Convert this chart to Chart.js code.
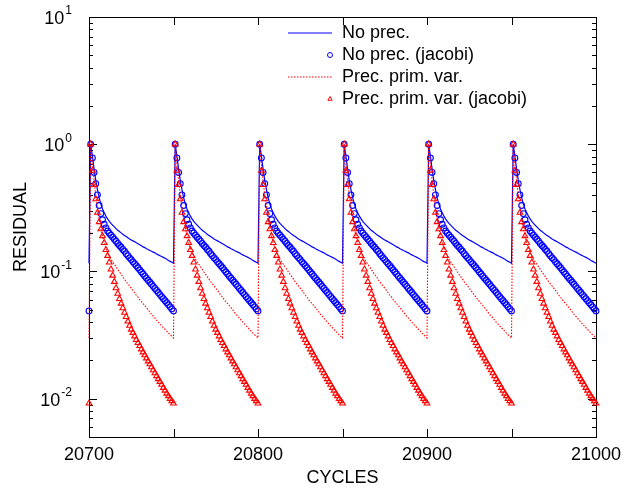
<!DOCTYPE html>
<html>
<head>
<meta charset="utf-8">
<script src="https://cdn.jsdelivr.net/npm/chart.js@4/dist/chart.umd.min.js"></script>
<style>
  html, body { margin: 0; padding: 0; background: #fff; }
  #wrap { width: 634px; height: 489px; }
</style>
</head>
<body>
<div id="wrap"><canvas id="chart" width="634" height="489"></canvas></div>
<script>
// every cycle block is 50 iterations long, the profile repeats per block
const cycleStarts = [20700, 20750, 20800, 20850, 20900, 20950];

const noPrec = [
  1.0, 0.81, 0.64, 0.52, 0.44, 0.38, 0.34, 0.31, 0.29, 0.272,
  0.259, 0.248, 0.239, 0.231, 0.224, 0.217, 0.211, 0.206, 0.201, 0.196,
  0.192, 0.188, 0.184, 0.180, 0.177, 0.174, 0.171, 0.168, 0.165, 0.162,
  0.159, 0.156, 0.154, 0.151, 0.149, 0.146, 0.144, 0.142, 0.140, 0.137,
  0.135, 0.133, 0.131, 0.129, 0.127, 0.125, 0.122, 0.120, 0.118, 0.116
];
const noPrecJacobi = [
  1.0, 0.78, 0.60, 0.49, 0.40, 0.33, 0.285, 0.255, 0.235, 0.22,
  0.208, 0.200, 0.193, 0.186, 0.179, 0.173, 0.166, 0.160, 0.155, 0.149,
  0.144, 0.138, 0.133, 0.128, 0.124, 0.119, 0.115, 0.111, 0.107, 0.103,
  0.099, 0.0954, 0.0919, 0.0886, 0.0853, 0.0822, 0.0793, 0.0764, 0.0736, 0.0709,
  0.0683, 0.0658, 0.0634, 0.0611, 0.0589, 0.0568, 0.0547, 0.0527, 0.0508, 0.049
];
const precPrim = [
  1.0, 0.70, 0.52, 0.40, 0.32, 0.26, 0.22, 0.19, 0.168, 0.152,
  0.141, 0.132, 0.125, 0.119, 0.114, 0.109, 0.104, 0.099, 0.095, 0.091,
  0.087, 0.083, 0.080, 0.077, 0.074, 0.071, 0.068, 0.065, 0.063, 0.060,
  0.058, 0.056, 0.054, 0.052, 0.050, 0.048, 0.046, 0.0445, 0.043, 0.0415,
  0.040, 0.0387, 0.0374, 0.0362, 0.035, 0.0339, 0.0328, 0.0318, 0.0309, 0.030
];
const precPrimJacobi = [
  1.0, 0.62, 0.48, 0.37, 0.29, 0.245, 0.215, 0.19, 0.168, 0.148,
  0.133, 0.118, 0.104, 0.093, 0.083, 0.074, 0.067, 0.061, 0.056, 0.0515,
  0.0475, 0.0440, 0.0405, 0.0375, 0.0350, 0.0330, 0.0310, 0.0290, 0.0275, 0.0260,
  0.0245, 0.0232, 0.0220, 0.0208, 0.0197, 0.0187, 0.0177, 0.0168, 0.0159, 0.0151,
  0.0143, 0.0136, 0.0129, 0.0122, 0.0116, 0.0110, 0.0105, 0.0100, 0.0096, 0.0092
];

const seriesNames = ["No prec.", "No prec. (jacobi)", "Prec. prim. var.", "Prec. prim. var. (jacobi)"];
const xTicks = [20700, 20750, 20800, 20850, 20900, 20950, 21000];
const xTickLabels = ["20700", "", "20800", "", "20900", "", "21000"];
const yDecades = [-2, -1, 0, 1];

const FONT = "'Liberation Sans', Arial, Helvetica, sans-serif";
const BLUE = "#0000ff";
const RED = "#ff0000";

function buildSeries(profile) {
  const pts = [{ x: cycleStarts[0], y: profile[profile.length - 1] }];
  cycleStarts.forEach(s => {
    profile.forEach((v, i) => pts.push({ x: s + i + 1, y: v }));
  });
  return pts;
}

function marker(ctx, style, x, y, r, color) {
  ctx.save();
  ctx.strokeStyle = color;
  ctx.lineWidth = 1;
  ctx.beginPath();
  if (style === "circle") {
    ctx.arc(x, y, r, 0, Math.PI * 2);
  } else {
    ctx.moveTo(x, y - r);
    ctx.lineTo(x + r * Math.sin(Math.PI / 3), y + r / 2);
    ctx.lineTo(x - r * Math.sin(Math.PI / 3), y + r / 2);
    ctx.closePath();
  }
  ctx.stroke();
  ctx.restore();
}

const frame = {
  id: "frame",
  beforeDatasetsDraw(chart) {
    const { ctx, chartArea: a } = chart;
    const xs = chart.scales.x, ys = chart.scales.y;
    ctx.save();
    ctx.strokeStyle = "#000";
    ctx.lineWidth = 1;
    ctx.beginPath();
    // x ticks, bottom and top, pointing inwards
    xTicks.forEach(v => {
      const px = Math.round(xs.getPixelForValue(v)) + 0.5;
      ctx.moveTo(px, a.bottom); ctx.lineTo(px, a.bottom - 8);
      ctx.moveTo(px, a.top); ctx.lineTo(px, a.top + 8);
    });
    // y ticks, major at decades and minor at 2..9
    for (let d = -3; d <= 1; d++) {
      for (let m = 1; m <= 9; m++) {
        const v = m * Math.pow(10, d);
        if (v < ys.min || v > ys.max) continue;
        const py = Math.round(ys.getPixelForValue(v)) + 0.5;
        const len = m === 1 ? 8 : 4;
        ctx.moveTo(a.left, py); ctx.lineTo(a.left + len, py);
        ctx.moveTo(a.right, py); ctx.lineTo(a.right - len, py);
      }
    }
    ctx.stroke();
    ctx.strokeRect(Math.round(a.left) + 0.5, Math.round(a.top) + 0.5,
      Math.round(a.right - a.left), Math.round(a.bottom - a.top));

    ctx.fillStyle = "#000";
    ctx.font = "18px " + FONT;
    ctx.textAlign = "center";
    ctx.textBaseline = "middle";
    xTicks.forEach((v, i) => {
      if (xTickLabels[i]) ctx.fillText(xTickLabels[i], xs.getPixelForValue(v), 455);
    });
    ctx.fillText("CYCLES", (a.left + a.right) / 2, 478);

    // y labels as 10 with a raised exponent
    yDecades.forEach(e => {
      const py = ys.getPixelForValue(Math.pow(10, e));
      const sup = String(e);
      ctx.font = "12px " + FONT;
      const supW = ctx.measureText(sup).width;
      ctx.font = "18px " + FONT;
      const baseW = ctx.measureText("10").width;
      const right = 72;
      ctx.textAlign = "left";
      ctx.fillText("10", right - supW - 1 - baseW, py + 2);
      ctx.font = "12px " + FONT;
      ctx.fillText(sup, right - supW, py - 6);
    });

    ctx.font = "18px " + FONT;
    ctx.textAlign = "center";
    ctx.translate(21, (a.top + a.bottom) / 2);
    ctx.rotate(-Math.PI / 2);
    ctx.fillText("RESIDUAL", 0, 0);
    ctx.restore();
  },
  afterDraw(chart) {
    const ctx = chart.ctx;
    ctx.save();
    ctx.font = "18px " + FONT;
    ctx.textAlign = "left";
    ctx.textBaseline = "middle";
    chart.data.datasets.forEach((ds, i) => {
      const y = 33 + i * 22;
      if (ds.showLine !== false) {
        ctx.strokeStyle = ds.borderColor;
        ctx.lineWidth = ds.borderWidth;
        ctx.setLineDash(ds.borderDash || []);
        ctx.beginPath();
        ctx.moveTo(288, y); ctx.lineTo(332, y);
        ctx.stroke();
        ctx.setLineDash([]);
      } else {
        marker(ctx, ds.pointStyle, 330, y, 2.5, ds.pointBorderColor);
      }
      ctx.fillStyle = "#000";
      ctx.fillText(seriesNames[i], 342, y);
    });
    ctx.restore();
  }
};

new Chart(document.getElementById("chart"), {
  type: "line",
  data: {
    datasets: [
      {
        label: seriesNames[0], data: buildSeries(noPrec),
        borderColor: BLUE, borderWidth: 1.2, pointRadius: 0, fill: false,
        tension: 0, clip: false, order: 4
      },
      {
        label: seriesNames[1], data: buildSeries(noPrecJacobi),
        showLine: false, pointStyle: "circle", pointRadius: 2.9,
        pointBorderColor: BLUE, pointBackgroundColor: "rgba(0,0,0,0)",
        pointBorderWidth: 1.1, clip: false, order: 3
      },
      {
        label: seriesNames[2], data: buildSeries(precPrim),
        borderColor: RED, borderWidth: 1.1, borderDash: [1.5, 1.5], pointRadius: 0,
        fill: false, tension: 0, clip: false, order: 2
      },
      {
        label: seriesNames[3], data: buildSeries(precPrimJacobi),
        showLine: false, pointStyle: "triangle", pointRadius: 3.3,
        pointBorderColor: RED, pointBackgroundColor: "rgba(0,0,0,0)",
        pointBorderWidth: 1.1, clip: false, order: 1
      }
    ]
  },
  options: {
    responsive: false,
    animation: false,
    events: [],
    layout: { padding: { left: 89, right: 38, top: 17, bottom: 52 } },
    plugins: { legend: { display: false }, tooltip: { enabled: false } },
    scales: {
      x: { type: "linear", min: 20700, max: 21000, display: false },
      y: { type: "logarithmic", min: 0.005, max: 10, display: false }
    }
  },
  plugins: [frame]
});
</script>
</body>
</html>
